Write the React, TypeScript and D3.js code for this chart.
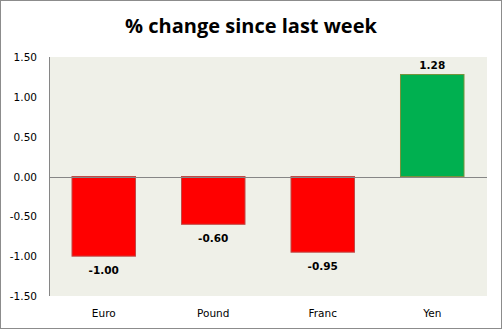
import React from "react";
import * as d3 from "d3";

const categories = ["Euro", "Pound", "Franc", "Yen"];
const values = [-1.0, -0.6, -0.95, 1.28];
const tickValues = [1.5, 1.0, 0.5, 0.0, -0.5, -1.0, -1.5];
const title = "% change since last week";

const W = 502, H = 329;
const left = 49, right = 487, top = 57, bottom = 296;

const fmt = (v: number) => d3.format(".2f")(v).replace("\u2212", "-");

export default function App() {
  const x = d3.scaleBand<string>().domain(categories).range([left, right]).paddingInner(0.42).paddingOuter(0.21);
  const y = d3.scaleLinear().domain([-1.5, 1.5]).range([bottom, top]);
  const tickFont = "Verdana, 'DejaVu Sans', sans-serif";
  return (
    <svg width={W} height={H} style={{ position: "absolute", left: 0, top: 0, display: "block" }}>
      <rect x={0.5} y={0.5} width={W - 1} height={H - 1} fill="#ffffff" stroke="#8c8c8c" />
      <text x={251} y={33} textAnchor="middle" fontFamily="'Open Sans', Lato, sans-serif" fontWeight="bold" fontSize={20} fill="#000">{title}</text>
      <rect x={left} y={top} width={right - left} height={bottom - top} fill="#eff0e8" />
      {tickValues.map((t) => (
        <text key={t} x={37} y={y(t) + 4} textAnchor="end" fontFamily={tickFont} fontSize={10.5} fill="#000">{fmt(t)}</text>
      ))}
      {categories.map((c, i) => {
        const v = values[i];
        const y0 = y(Math.max(0, v));
        const h = Math.abs(y(v) - y(0));
        const pos = v >= 0;
        return (
          <g key={c}>
            <rect x={x(c)!} y={y0} width={x.bandwidth()} height={h}
              fill={pos ? "#00b050" : "#ff0000"} stroke={pos ? "#77933c" : "#be4b48"} strokeWidth={1} />
            <text x={x(c)! + x.bandwidth() / 2} y={pos ? y(v) - 6 : y(v) + 18} textAnchor="middle"
              fontFamily={tickFont} fontWeight="bold" fontSize={10.5} fill="#000">{fmt(v)}</text>
            <text x={x(c)! + x.bandwidth() / 2} y={317} textAnchor="middle" fontFamily={tickFont} fontSize={10.5} fill="#000">{c}</text>
          </g>
        );
      })}
      <line x1={left} x2={right} y1={Math.round(y(0)) + 0.5} y2={Math.round(y(0)) + 0.5} stroke="#868686" />
      <line x1={left + 0.5} x2={left + 0.5} y1={top} y2={bottom} stroke="#868686" />
    </svg>
  );
}
